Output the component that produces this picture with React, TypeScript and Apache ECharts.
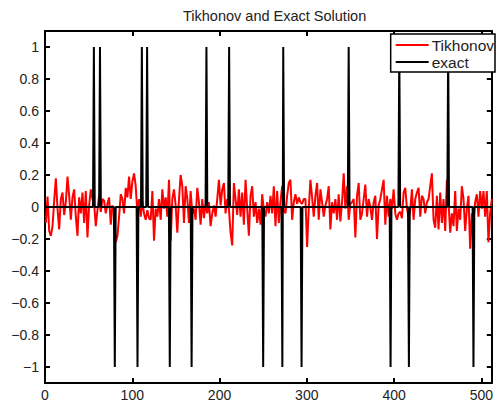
import React, { useEffect, useRef } from "react";
import * as echarts from "echarts";

const titleText = "Tikhonov and Exact Solution";
const seriesNames = ["Tikhonov", "exact"];
const xTicks = [0, 100, 200, 300, 400, 500];
const yTicks = [-1, -0.8, -0.6, -0.4, -0.2, 0, 0.2, 0.4, 0.6, 0.8, 1];
const signalLength = 512;

// exact solution: spike positions (index) with value +1 / -1
const exactPlus = [56, 63, 111, 117, 185, 211, 273, 348, 406, 462];
const exactMinus = [80, 106, 143, 168, 250, 272, 294, 396, 417, 491];

// Tikhonov solution (evenly spaced over indices 1..512)
const tikhonovValues = [
  -0.1, 0.065, -0.15, -0.18, -0.12, 0.04, 0.18, -0.01, -0.14, 0.05, 0.09, -0.05, 0.03, 0.19, 0.07, -0.08,
  0.06, 0.11, -0.06, -0.18, 0.06, -0.04, 0.09, -0.1, 0.1, -0.19, 0.01, 0.11, 0.05, 0.02, -0.12, -0.02,
  0.07, -0.03, 0.05, 0.04, -0.04, 0.02, 0.06, -0.11, 0.01, -0.03, -0.22, -0.18, -0.06, 0.08, 0.05, -0.04,
  0.12, 0.06, 0.19, 0.05, 0.16, 0.21, 0.13, -0.04, 0.05, -0.06, 0.03, -0.04, -0.08, -0.02, -0.07, -0.08,
  0.1, -0.21, -0.01, -0.06,
  0.05, -0.08, 0.11, -0.01, 0.06, -0.06, 0.17, -0.21, 0.05, 0.11, 0.01, -0.16, 0.05, 0.2, 0.13, -0.1,
  0.13, 0.05, -0.1, 0.1, -0.04, -0.01, -0.08, 0.12, 0.03, -0.11, 0.05, -0.07, 0.02, -0.04, 0.03, -0.12,
  -0.04, 0.01, -0.06, 0.05, 0.17, 0.01, 0.11, 0.15, -0.04, 0.05, -0.01, -0.16, -0.24, 0.15, 0.05, -0.05,
  0.11, -0.06, 0.09, -0.11, 0.17, -0.01, -0.18, 0.07, 0.13, -0.06, 0.03, -0.1, -0.01, -0.11, 0.08, -0.02,
  -0.06, 0.03, -0.04,
  0.07, -0.04, 0.13, -0.12, 0.1, -0.1, 0.03, 0.13, -0.02, -0.04, 0.07, 0.15, 0.17, -0.08, 0.03, 0.08,
  0.02, 0.06, 0.03, 0.02, 0.05, 0.05, -0.25, -0.01, 0.17, 0.06, -0.06, 0.07, 0.15, -0.08, 0.11, 0.03,
  -0.06, 0.01, 0.05, 0.13, -0.14, 0.03, -0.04, 0.05, -0.08, 0.08, -0.09, 0.03, 0.21, -0.01, 0.13, -0.08,
  0.02, 0.03, 0.05, -0.19, 0.07, 0.15, -0.08, -0.04, 0.05, 0.14, -0.06, 0.05, 0.0, -0.08, 0.03, 0.07,
  -0.2, 0.01, 0.05,
  0.11, 0.17, -0.11, 0.07, -0.06, 0.05, -0.01, 0.11, -0.04, -0.08, -0.04, -0.03, -0.07, 0.09, 0.12, -0.01,
  -0.06, -0.02, 0.11, -0.08, 0.05, 0.09, 0.12, -0.06, 0.07, 0.05, -0.04, 0.03, 0.05, 0.13, 0.21, -0.08,
  -0.13, 0.07, -0.14, 0.09, -0.1, 0.05, -0.15, 0.17, 0.03, -0.16, -0.04, -0.12, 0.1, -0.15, -0.01, -0.08,
  0.13, 0.05, -0.15, -0.01, 0.07, -0.26, -0.04, -0.08, 0.03, 0.08, -0.06, 0.1, -0.01, 0.1, -0.06, 0.1,
  -0.22, -0.04, 0.05,
];

const FONT = "'Liberation Sans', Arial, Helvetica, sans-serif";

export default function App() {
  const ref = useRef<HTMLDivElement>(null);

  useEffect(() => {
    if (!ref.current) return;
    const chart = echarts.init(ref.current, undefined, { renderer: "svg" });

    const n = tikhonovValues.length;
    const tikData = tikhonovValues.map((v, i) => [1 + (i * (signalLength - 1)) / (n - 1), v]);

    const exactArr: number[] = new Array(signalLength).fill(0);
    exactPlus.forEach((k) => (exactArr[k - 1] = 1));
    exactMinus.forEach((k) => (exactArr[k - 1] = -1));
    const exactData = exactArr.map((v, i) => [i + 1, v]);

    const fmt = (v: number) => String(v).replace("-", "\u2212");
    const black = "#000";

    const baseX = {
      type: "value",
      min: 0,
      max: 512,
      splitLine: { show: false },
      axisLine: { show: true, onZero: false, lineStyle: { color: black, width: 2 } },
      axisTick: { show: true, inside: true, length: 5, customValues: xTicks, lineStyle: { color: black, width: 2 } },
    };
    const baseY = {
      type: "value",
      min: -1.1,
      max: 1.1,
      splitLine: { show: false },
      axisLine: { show: true, onZero: false, lineStyle: { color: black, width: 2 } },
      axisTick: { show: true, inside: true, length: 5, customValues: yTicks, lineStyle: { color: black, width: 2 } },
    };

    chart.setOption({
      animation: false,
      backgroundColor: "#fff",
      textStyle: { fontFamily: FONT },
      title: {
        text: titleText,
        left: 178,
        top: 3,
        textStyle: { fontSize: 14.5, fontWeight: "normal", color: "#222", fontFamily: FONT },
      },
      grid: { left: 45, right: 1, top: 31, bottom: 22 },
      legend: {
        orient: "vertical",
        right: 1,
        top: 34,
        data: seriesNames,
        icon: "rect",
        itemWidth: 33,
        itemHeight: 2,
        itemGap: 1,
        padding: [3, 1, 2, 5],
        borderColor: black,
        borderWidth: 1.5,
        backgroundColor: "#fff",
        textStyle: { fontSize: 15.5, color: "#222", fontFamily: FONT, lineHeight: 16, padding: [0, 0, 0, -2] },
      },
      xAxis: [
        {
          ...baseX,
          position: "bottom",
          axisLabel: { show: true, customValues: xTicks, color: "#222", fontSize: 14, margin: 5, fontFamily: FONT },
        },
        { ...baseX, position: "top", axisLabel: { show: false } },
      ],
      yAxis: [
        {
          ...baseY,
          position: "left",
          axisLabel: {
            show: true,
            customValues: yTicks,
            color: "#222",
            fontSize: 14,
            margin: 6,
            fontFamily: FONT,
            formatter: fmt,
          },
        },
        { ...baseY, position: "right", axisLabel: { show: false } },
      ],
      series: [
        {
          name: seriesNames[0],
          type: "line",
          xAxisIndex: 0,
          yAxisIndex: 0,
          data: tikData,
          showSymbol: false,
          symbol: "none",
          color: "#ff0000",
          lineStyle: { color: "#ff0000", width: 2 },
        },
        {
          name: seriesNames[1],
          type: "line",
          xAxisIndex: 0,
          yAxisIndex: 0,
          data: exactData,
          showSymbol: false,
          symbol: "none",
          color: black,
          lineStyle: { color: black, width: 2 },
        },
      ],
    });

    return () => chart.dispose();
  }, []);

  return (
    <div
      ref={ref}
      style={{ position: "fixed", left: 0, top: 0, width: 496, height: 405, background: "#fff" }}
    />
  );
}
